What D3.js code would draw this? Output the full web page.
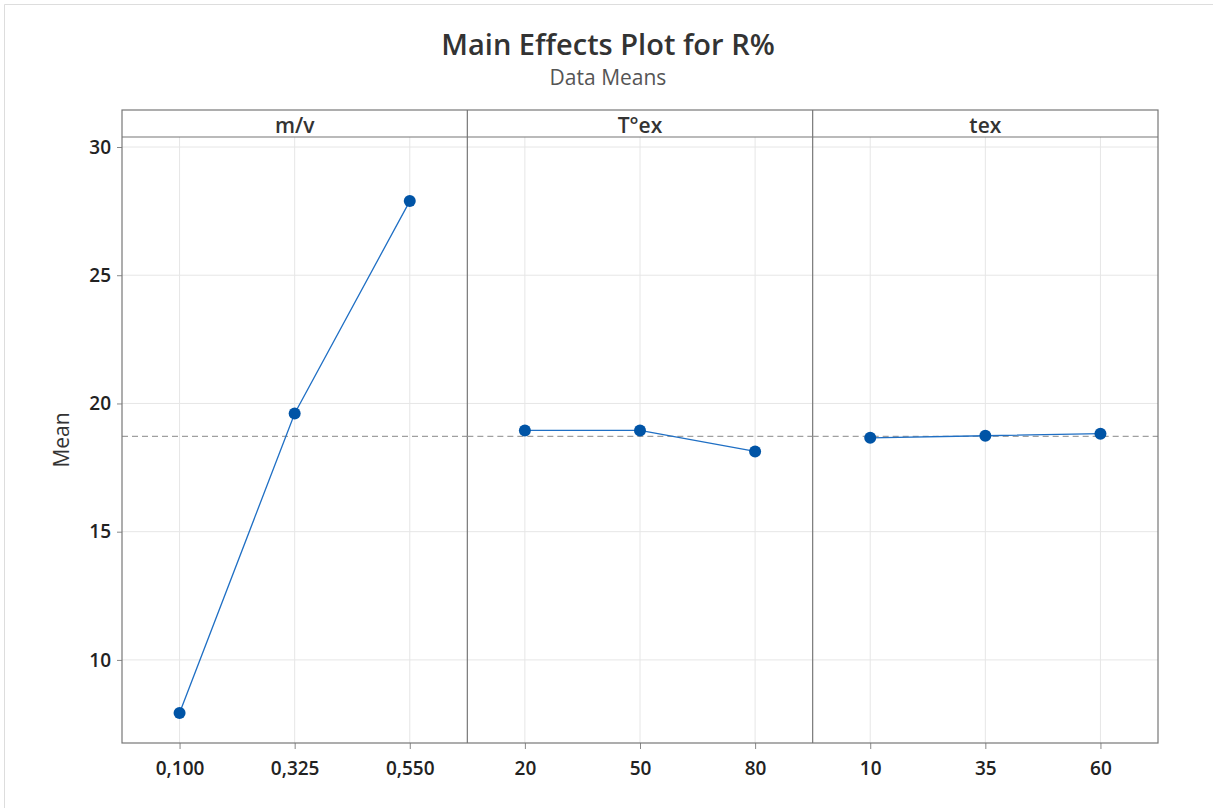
<!DOCTYPE html>
<html>
<head>
<meta charset="utf-8">
<script src="https://cdn.jsdelivr.net/npm/d3@7"></script>
<style>
  body { margin: 0; background: #fff; }
  text { font-family: "Open Sans", "Noto Sans", sans-serif; }
</style>
</head>
<body>
<div id="chart"></div>
<script>
// factors and their levels
const factors = ["m/v", "T°ex", "tex"];
const levels = [
  ["0,100", "0,325", "0,550"],
  ["20", "50", "80"],
  ["10", "35", "60"],
];
// data means
const means = [
  [7.93, 19.61, 27.89],
  [18.95, 18.95, 18.13],
  [18.66, 18.74, 18.82],
];
const grandMean = 18.72;
const yTicks = [10, 15, 20, 25, 30];

(function () {
  const W = 1213, H = 808;
  const margin = { top: 110, right: 55, bottom: 65, left: 122 };
  const headerH = 27;
  const width = W - margin.left - margin.right;
  const plotTop = margin.top + headerH;
  const plotBottom = H - margin.bottom;

  const svg = d3.select("#chart").append("svg")
    .attr("width", W).attr("height", H);

  // light frame at left/top of screenshot
  svg.append("line").attr("x1", 4.5).attr("x2", 4.5).attr("y1", 4.5).attr("y2", H)
    .attr("stroke", "#ddd");
  svg.append("line").attr("x1", 4.5).attr("x2", W).attr("y1", 4.5).attr("y2", 4.5)
    .attr("stroke", "#ddd");

  svg.append("text").attr("x", 608).attr("y", 55).attr("text-anchor", "middle")
    .attr("font-size", 29).attr("font-weight", 600).attr("fill", "#333")
    .text("Main Effects Plot for R%");
  svg.append("text").attr("x", 608).attr("y", 85).attr("text-anchor", "middle")
    .attr("font-size", 21).attr("fill", "#555")
    .text("Data Means");

  const y = d3.scaleLinear().domain([6.76, 30.39]).range([plotBottom, plotTop]);

  const panel = d3.scaleBand().domain(factors)
    .range([margin.left, margin.left + width]).padding(0);

  // horizontal grid across all panels
  svg.append("g").selectAll("line").data(yTicks).join("line")
    .attr("x1", margin.left).attr("x2", margin.left + width)
    .attr("y1", d => y(d)).attr("y2", d => y(d))
    .attr("stroke", "#e6e6e6").attr("stroke-width", 1);

  factors.forEach((f, i) => {
    const x0 = panel(f), x1 = x0 + panel.bandwidth();
    const x = d3.scalePoint().domain(levels[i]).range([x0, x1]).padding(0.5);

    // vertical grid
    svg.append("g").selectAll("line").data(levels[i]).join("line")
      .attr("x1", d => x(d)).attr("x2", d => x(d))
      .attr("y1", plotTop).attr("y2", plotBottom)
      .attr("stroke", "#e6e6e6");

    // x axis
    const ax = svg.append("g").attr("transform", `translate(0,${plotBottom})`)
      .call(d3.axisBottom(x).tickSize(6).tickPadding(13));
    ax.select(".domain").remove();
    ax.selectAll(".tick line").attr("stroke", "#888");
    ax.selectAll(".tick text").attr("font-size", 19).attr("font-weight", 600)
      .attr("fill", "#222").attr("font-family", "'Open Sans', sans-serif");

    // panel header
    svg.append("text").attr("x", (x0 + x1) / 2).attr("y", margin.top + 23)
      .attr("text-anchor", "middle").attr("font-size", 21).attr("font-weight", 600)
      .attr("fill", "#333").text(f);

    // divider
    if (i > 0) {
      svg.append("line").attr("x1", x0).attr("x2", x0)
        .attr("y1", margin.top).attr("y2", plotBottom)
        .attr("stroke", "#777").attr("stroke-width", 1.2);
    }

    // reference line at the grand mean
    svg.append("line").attr("x1", x0).attr("x2", x1)
      .attr("y1", y(grandMean)).attr("y2", y(grandMean))
      .attr("stroke", "#a0a0a0").attr("stroke-width", 1.3)
      .attr("stroke-dasharray", "6,4");

    const pts = levels[i].map((l, j) => ({ l, v: means[i][j] }));
    svg.append("path").datum(pts)
      .attr("fill", "none").attr("stroke", "#1f6fc4").attr("stroke-width", 1.3)
      .attr("d", d3.line().x(d => x(d.l)).y(d => y(d.v)));
    svg.append("g").selectAll("circle").data(pts).join("circle")
      .attr("cx", d => x(d.l)).attr("cy", d => y(d.v)).attr("r", 6)
      .attr("fill", "#0054a6");
  });

  // y axis
  const ay = svg.append("g").attr("transform", `translate(${margin.left},0)`)
    .call(d3.axisLeft(y).tickValues(yTicks).tickSize(5).tickPadding(6));
  ay.select(".domain").remove();
  ay.selectAll(".tick line").attr("stroke", "#888");
  ay.selectAll(".tick text").attr("font-size", 19).attr("font-weight", 600)
    .attr("fill", "#222").attr("font-family", "'Open Sans', sans-serif");

  // frame and header separator
  svg.append("rect").attr("x", margin.left).attr("y", margin.top)
    .attr("width", width).attr("height", plotBottom - margin.top)
    .attr("fill", "none").attr("stroke", "#777").attr("stroke-width", 1.2);
  svg.append("line").attr("x1", margin.left).attr("x2", margin.left + width)
    .attr("y1", plotTop).attr("y2", plotTop)
    .attr("stroke", "#777").attr("stroke-width", 1.2);

  svg.append("text")
    .attr("transform", `translate(69,${(plotTop + plotBottom) / 2}) rotate(-90)`)
    .attr("text-anchor", "middle").attr("font-size", 21).attr("font-weight", 500)
    .attr("fill", "#333")
    .text("Mean");
})();
</script>
</body>
</html>
